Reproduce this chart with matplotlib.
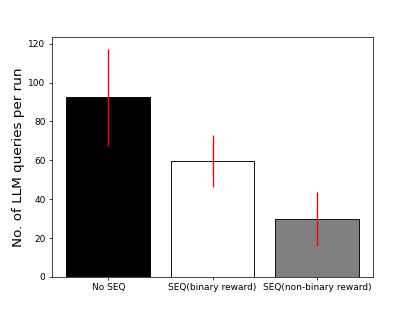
import matplotlib
matplotlib.use("Agg")
import matplotlib.pyplot as plt

categories = ["No SEQ", "SEQ(binary reward)", "SEQ(non-binary reward)"]
means = [92.3, 59.6, 29.6]
errors = [25.2, 13.6, 13.8]
colors = ["black", "white", "grey"]

fig, ax = plt.subplots(figsize=(6.4, 4.8), dpi=64.84)
ax.bar(range(len(categories)), means, yerr=errors, color=colors,
       edgecolor="black", linewidth=1, ecolor="red",
       error_kw=dict(elinewidth=1.5))
ax.set_xticks(range(len(categories)))
ax.set_xticklabels(categories)
ax.set_ylabel("No. of LLM queries per run", fontsize=15)
fig.savefig("out.png", dpi=64.84)
